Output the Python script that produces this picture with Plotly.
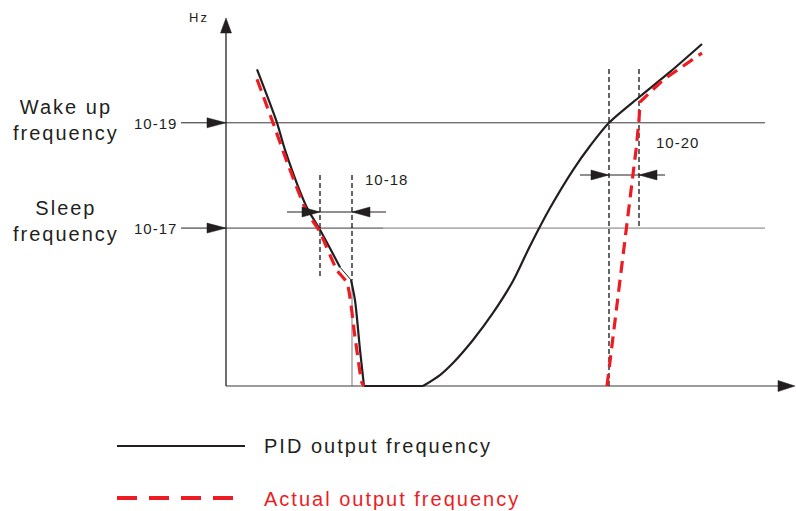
import plotly.graph_objects as go

# ---- canvas / scale --------------------------------------------------------
W, H = 796, 511
X0, Y0 = 226, 386          # origin of the time/frequency axes on the canvas
SX, SY = 10.0, 7.52        # px per second, px per Hz

# ---- data ------------------------------------------------------------------
sleep_freq = 21.0          # 10-17
wake_freq = 35.0           # 10-19
sleep_start, sleep_delay = 9.4, 3.2    # 10-18
wake_start, wake_delay = 38.3, 3.0     # 10-20

pid_t = [3.1, 5.1, 5.9, 8.1, 9.3, 11.4, 12.5, 12.9, 13.4, 13.8,
         19.7, 21.4, 22.7, 24.7, 26.7, 28.7, 30.4, 32.4, 34.7, 36.4, 38.3,
         41.4, 44.4, 47.6]
pid_f = [42.1, 35.0, 31.4, 23.7, 21.0, 15.8, 14.1, 11.4, 4.8, 0.0,
         0.0, 1.46, 3.06, 6.12, 9.71, 13.96, 18.62, 23.67, 28.72, 31.91, 35.0,
         38.5, 41.76, 45.48]

act_left_t = [3.1, 4.7, 6.1, 8.1, 9.3, 11.1, 12.1, 12.9, 13.6, 13.8]
act_left_f = [40.8, 35.0, 29.8, 23.1, 20.7, 15.4, 13.7, 6.5, 0.4, 0.0]
act_right_t = [38.1, 40.4, 41.0, 41.3, 41.4, 43.7, 47.6]
act_right_f = [0.0, 24.34, 31.38, 35.37, 37.77, 40.69, 44.28]

level_labels = ["10-17", "10-19"]
delay_labels = ["10-18", "10-20"]
legend_names = ["PID output frequency", "Actual output frequency"]

# ---- styles ----------------------------------------------------------------
INK = "#231f20"
RED = "#ed1c24"
FONT = "Liberation Sans, Arial, sans-serif"


def t_of(px):
    return (px - X0) / SX


def f_of(py):
    return (Y0 - py) / SY


def spaced(text, sp):
    return "<br>".join(f'<span style="letter-spacing:{sp}px">{ln}</span>'
                       for ln in text.split("\n"))


fig = go.Figure()

# PID output frequency (solid black)
segs = [(0, 6, 2.2, "spline"), (5, 7, 1.0, "linear"), (6, 10, 2.2, "spline"),
        (9, 11, 2.2, "linear"), (10, len(pid_t), 2.2, "spline")]
for a, b, w, shp in segs:
    fig.add_trace(go.Scatter(x=pid_t[a:b], y=pid_f[a:b], mode="lines",
                             line=dict(color=INK, width=w, shape=shp, smoothing=0.8),
                             hoverinfo="skip", showlegend=False))

# Actual output frequency (red dashed)
for tt, ff, shp in [(act_left_t, act_left_f, "spline"), (act_right_t, act_right_f, "linear")]:
    fig.add_trace(go.Scatter(x=tt, y=ff, mode="lines",
                             line=dict(color=RED, width=3.2, dash="12px,7px",
                                       shape=shp, smoothing=0.6),
                             hoverinfo="skip", showlegend=False))

shapes = []


def line(x0, y0, x1, y1, color=INK, width=1.0, dash="solid"):
    shapes.append(dict(type="line", xref="x", yref="y", x0=x0, y0=y0, x1=x1, y1=y1,
                       line=dict(color=color, width=width, dash=dash), layer="below"))


def arrow_h(tip_t, f, direction, length_px=18, half_px=5):
    # direction +1: pointing right, -1: pointing left
    bt = tip_t - direction * length_px / SX
    hf = half_px / SY
    shapes.append(dict(type="path", xref="x", yref="y",
                       path=f"M {tip_t} {f} L {bt} {f + hf} L {bt} {f - hf} Z",
                       fillcolor=INK, line=dict(color=INK, width=0.5)))


right_end = t_of(765)
DASH = "5px,3px"

# threshold levels
line(0, wake_freq, right_end, wake_freq, color="#3a3a3a", width=1)
line(0, sleep_freq, t_of(383), sleep_freq, color="#3a3a3a", width=1)
line(t_of(383), sleep_freq, right_end, sleep_freq, color="#777777", width=1)

# axes
line(0, 0, t_of(779), 0, color="#7a7a7a", width=1.5)
arrow_h(t_of(795), 0, +1, length_px=17, half_px=5.5)
line(0, 0, 0, f_of(32), color=INK, width=1.3)
shapes.append(dict(type="path", xref="x", yref="y",
                   path=(f"M 0 {f_of(18)} L {-5.5 / SX} {f_of(33)} "
                         f"L {5.5 / SX} {f_of(33)} Z"),
                   fillcolor=INK, line=dict(color=INK, width=0.5)))

# level pointers on the frequency axis
for lv in (sleep_freq, wake_freq):
    line(t_of(181), lv, 0, lv, color=INK, width=1)
    arrow_h(0, lv, +1, length_px=19, half_px=5)

# sleep delay (10-18)
s1 = sleep_start + sleep_delay
line(sleep_start, f_of(175), sleep_start, f_of(278), color="#000", width=1.2, dash=DASH)
line(s1, f_of(175), s1, f_of(280), color="#000", width=1.2, dash=DASH)
line(s1, f_of(280), s1, 0, color="#555555", width=0.8)
fy = f_of(212)
line(t_of(287), fy, t_of(386), fy, width=1)
arrow_h(sleep_start, fy, +1)
arrow_h(s1, fy, -1)

# wake delay (10-20)
w1 = wake_start + wake_delay
line(wake_start, f_of(69), wake_start, 0, color="#000", width=1.2, dash=DASH)
line(w1, f_of(69), w1, sleep_freq, color="#000", width=1.2, dash=DASH)
fy = f_of(175)
line(t_of(580), fy, t_of(665), fy, width=1)
arrow_h(wake_start, fy, +1)
arrow_h(w1, fy, -1)

# legend samples
line(t_of(117), f_of(446), t_of(245), f_of(446), color=INK, width=2)
line(t_of(117), f_of(498), t_of(234), f_of(498), color=RED, width=4, dash="20px,12px")

annotations = []


def text(px, py, s, size, color=INK, sp=0, xanchor="center"):
    annotations.append(dict(x=t_of(px), y=f_of(py), xref="x", yref="y",
                            text=spaced(s, sp) if sp else s, showarrow=False,
                            xanchor=xanchor, yanchor="middle",
                            font=dict(family=FONT, size=size, color=color)))


text(199, 17, "Hz", 13, sp=2)
text(66, 120, "Wake up\nfrequency", 20, sp=2)
text(66, 221, "Sleep\nfrequency", 20, sp=2)
text(155, 123, level_labels[1], 15, sp=1)
text(155, 228, level_labels[0], 15, sp=1)
text(386, 179, delay_labels[0], 15, sp=1)
text(677, 142, delay_labels[1], 15, sp=1)
text(262, 446, legend_names[0], 20, sp=2, xanchor="left")
text(262, 499, legend_names[1], 20, color=RED, sp=2, xanchor="left")

fig.update_layout(
    width=W, height=H,
    margin=dict(l=0, r=0, t=0, b=0),
    paper_bgcolor="white", plot_bgcolor="white",
    xaxis=dict(range=[t_of(0), t_of(W)], visible=False, fixedrange=True),
    yaxis=dict(range=[f_of(H), f_of(0)], visible=False, fixedrange=True),
    shapes=shapes, annotations=annotations, showlegend=False,
)

fig.write_html("out.html")
